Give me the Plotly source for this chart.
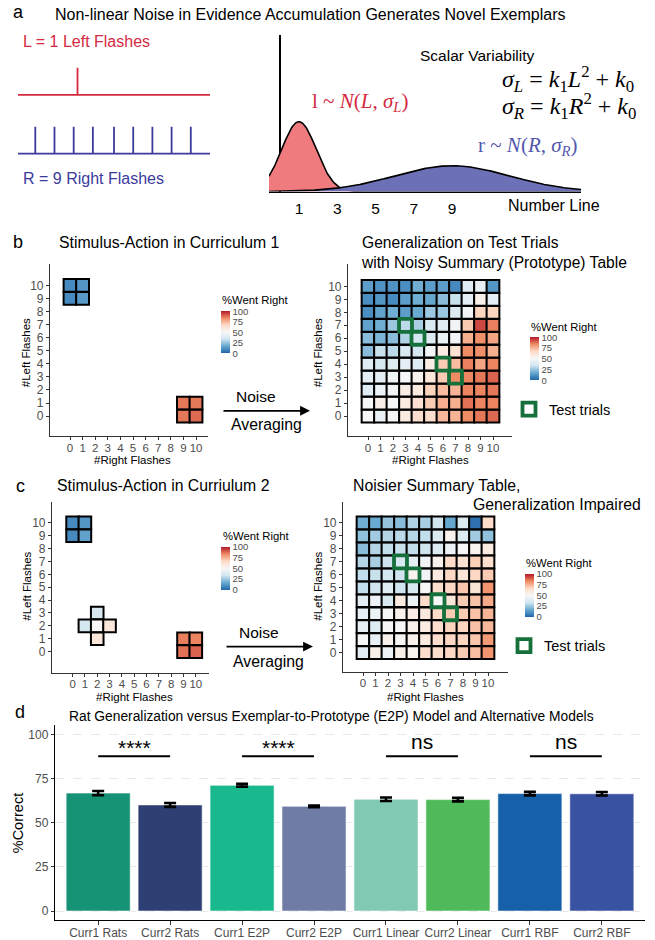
import plotly.graph_objects as go
import numpy as np

# ---------------- DATA ----------------
# Panel a: flash trains and evidence distributions
left_flash_times = [3.1]
right_flash_times = [0.9, 1.9, 2.9, 3.9, 5.0, 6.0, 7.0, 8.0, 9.0]
number_line_ticks = [1, 3, 5, 7, 9]
dist_means = [1, 9]
dist_sigmas = [0.9, 3.0]
dist_peaks = [1.0, 0.37]

# Panels b / c
levels = list(range(11))
curr1_x = [0, 1, 0, 1, 9, 10, 9, 10]
curr1_y = [10, 10, 9, 9, 1, 1, 0, 0]
curr1_v = [9, 12, 9, 13, 86, 86, 86, 88]

curr2_x = [0, 1, 0, 1, 2, 1, 2, 3, 2, 9, 10, 9, 10]
curr2_y = [10, 10, 9, 9, 3, 2, 2, 2, 1, 1, 1, 0, 0]
curr2_v = [9, 12, 9, 15, 36, 35, 50, 60, 60, 85, 84, 87, 89]

# rows: #Left Flashes = 0 .. 10 ; columns: #Right Flashes = 0 .. 10
grid_b = [
    [50, 44, 50, 58, 64, 65, 74, 75, 83, 86, 88],
    [50, 55, 50, 58, 63, 70, 76, 76, 87, 84, 84],
    [40, 45, 48, 56, 58, 68, 73, 75, 84, 84, 86],
    [42, 42, 46, 49, 53, 60, 70, 83, 84, 86, 89],
    [40, 36, 38, 42, 40, 56, 70, 73, 85, 78, 84],
    [22, 32, 30, 37, 35, 48, 57, 62, 83, 82, 76],
    [22, 20, 22, 28, 35, 40, 44, 47, 76, 82, 78],
    [15, 18, 25, 30, 27, 36, 40, 47, 70, 93, 85],
    [10, 15, 18, 14, 17, 25, 25, 38, 48, 68, 68],
    [10, 12, 9, 14, 18, 16, 22, 32, 42, 55, 42],
    [14, 11, 11, 10, 18, 14, 14, 9, 40, 43, 12],
]
grid_c = [
    [41, 55, 45, 55, 53, 65, 65, 67, 70, 73, 81],
    [50, 43, 54, 52, 54, 58, 64, 67, 68, 71, 80],
    [43, 39, 50, 50, 54, 57, 64, 68, 68, 72, 74],
    [43, 45, 50, 54, 56, 59, 66, 70, 70, 72, 75],
    [41, 45, 37, 58, 46, 66, 50, 60, 70, 72, 77],
    [31, 33, 40, 33, 37, 50, 65, 67, 71, 62, 81],
    [31, 32, 35, 33, 53, 47, 58, 67, 61, 67, 70],
    [29, 27, 33, 36, 42, 47, 54, 66, 62, 69, 64],
    [22, 29, 31, 32, 31, 33, 38, 45, 50, 53, 57],
    [23, 26, 29, 30, 29, 31, 38, 53, 38, 26, 23],
    [18, 17, 24, 22, 28, 27, 34, 16, 38, 3, 66],
]
test_x = [3, 4, 6, 7]
test_y = [7, 6, 4, 3]

# Panel d
bar_labels = ["Curr1 Rats", "Curr2 Rats", "Curr1 E2P", "Curr2 E2P",
              "Curr1 Linear", "Curr2 Linear", "Curr1 RBF", "Curr2 RBF"]
bar_values = [66.8, 60.1, 71.2, 59.3, 63.3, 63.1, 66.5, 66.4]
bar_errors = [1.2, 1.1, 0.8, 0.5, 1.0, 1.0, 1.0, 1.0]
bar_colors = ["#169274", "#2e3f73", "#1ab98d", "#6e7ca6",
              "#80c9b5", "#4fba59", "#1560a8", "#3a52a2"]
sig_pairs = [(0, 1), (2, 3), (4, 5), (6, 7)]
sig_labels = ["****", "****", "ns", "ns"]
sig_level = 87.7

# ---------------- STYLE / HELPERS ----------------
W, H = 655, 940
SANS = "Liberation Sans, Arial, Helvetica, sans-serif"
SERIF = "Liberation Serif, Times New Roman, serif"
GRAY = "#4d4d4d"
AXC = "#333333"
RED = "#d42a3f"
BLUE = "#3b3b9c"
BLUE2 = "#5358ae"
GREEN = "#16703b"
RDBU = [[0, "#2166ac"], [1/6, "#67a9cf"], [2/6, "#d1e5f0"], [0.5, "#f7f7f7"],
        [4/6, "#fddbc7"], [5/6, "#ef8a62"], [1, "#b2182b"]]


def fx(p):
    return p / W


def fy(p):
    return 1 - p / H


def dx(a, b):
    return [a / W, b / W]


def dy(top, bot):
    return [1 - bot / H, 1 - top / H]


fig = go.Figure()
ann = []
axes = {}


def text(x, y, s, size, color="black", xanchor="center", family=SANS, angle=0, align="left"):
    ann.append(dict(x=fx(x), y=fy(y), xref="paper", yref="paper", text=s, showarrow=False,
                    xanchor=xanchor, yanchor="middle", textangle=angle, align=align,
                    font=dict(size=size, color=color, family=family)))


# ---------------- PANEL a ----------------
for times, base, top, col in [(left_flash_times, 65, 92, RED), (right_flash_times, 6, 33, BLUE)]:
    xs, ys = [0, 10, None], [base, base, None]
    for t in times:
        xs += [t, t, None]
        ys += [base, top, None]
    fig.add_trace(go.Scatter(x=xs, y=ys, mode="lines", line=dict(color=col, width=1.8),
                             xaxis="x", yaxis="y", showlegend=False, hoverinfo="skip"))
axes["xaxis"] = dict(domain=dx(18, 210), range=[0, 10], anchor="y", visible=False)
axes["yaxis"] = dict(domain=dy(60, 160), range=[0, 100], anchor="x", visible=False)

xr_a = [-0.566, 15.73]
xgrid = np.linspace(xr_a[0], xr_a[1], 400)
for m, s, pk, fc in zip(dist_means, dist_sigmas, dist_peaks, ["#f07b7e", "#6c71b7"]):
    yv = pk * np.exp(-0.5 * ((xgrid - m) / s) ** 2)
    fig.add_trace(go.Scatter(x=xgrid, y=yv, mode="lines", fill="tozeroy", fillcolor=fc,
                             line=dict(color="black", width=1.6), xaxis="x2", yaxis="y2",
                             showlegend=False, hoverinfo="skip"))
axes["xaxis2"] = dict(domain=dx(269, 581), range=xr_a, anchor="y2", showline=True, linecolor="black",
                      linewidth=1.6, zeroline=True, zerolinecolor="black", zerolinewidth=1.6,
                      showgrid=False, ticks="", tickvals=number_line_ticks, ticklabelstandoff=2,
                      tickfont=dict(size=15.5, color="black", family=SANS), layer="above traces")
axes["yaxis2"] = dict(domain=dy(35, 192), range=[0, 2.243], anchor="x2", visible=False)

text(18, 12, "a", 18)
text(310, 15, "Non-linear Noise in Evidence Accumulation Generates Novel Exemplars", 16)
text(21, 42, "L = 1 Left Flashes", 16, RED, "left")
text(21, 179, "R = 9 Right Flashes", 16, BLUE, "left")
text(418, 56, "Scalar Variability", 15.5, "black", "left")
text(500, 79, "<i>σ</i><sub><i>L</i></sub> = <i>k</i><sub>1</sub><i>L</i><sup>2</sup> + <i>k</i><sub>0</sub>",
     24, "black", "left", SERIF)
text(500, 106, "<i>σ</i><sub><i>R</i></sub> = <i>k</i><sub>1</sub><i>R</i><sup>2</sup> + <i>k</i><sub>0</sub>",
     24, "black", "left", SERIF)
text(310, 102, "l ~ <i>N</i>(<i>L</i>, <i>σ</i><sub><i>L</i></sub>)", 21, RED, "left", SERIF)
text(476, 146, "r ~ <i>N</i>(<i>R</i>, <i>σ</i><sub><i>R</i></sub>)", 21, BLUE2, "left", SERIF)
text(506, 206, "Number Line", 16, "black", "left")


# ---------------- PANELS b / c ----------------
def hm_axes(n, xd, yd, xrng, yrng):
    axes[f"xaxis{n}"] = dict(domain=dx(*xd), range=xrng, anchor=f"y{n}", showline=True, linecolor=AXC,
                             linewidth=1.1, ticks="outside", ticklen=3, tickcolor=AXC, tickvals=levels,
                             tickfont=dict(size=11.5, color=GRAY), showgrid=False, zeroline=False,
                             ticklabelstandoff=-2)
    axes[f"yaxis{n}"] = dict(domain=dy(*yd), range=yrng, anchor=f"x{n}", showline=True, linecolor=AXC,
                             linewidth=1.1, ticks="outside", ticklen=3, tickcolor=AXC, tickvals=levels,
                             tickfont=dict(size=12, color=GRAY), showgrid=False, zeroline=False)


def colorbar(xp, ytop, ybot):
    return dict(x=fx(xp), xanchor="left", xpad=0, ypad=0, y=fy((ytop + ybot) / 2), yanchor="middle",
                len=ybot - ytop, lenmode="pixels", thickness=9, outlinewidth=0, ticks="",
                tickvals=[0, 25, 50, 75, 100], tickfont=dict(size=9.5, color=GRAY), title=dict(text=""))


def tiles(xs, ys, vs, n, size, cb):
    fig.add_trace(go.Scatter(x=xs, y=ys, mode="markers", xaxis=f"x{n}", yaxis=f"y{n}",
                             marker=dict(symbol="square", size=size, color=vs, cmin=0, cmax=100,
                                         colorscale=RDBU, line=dict(color="black", width=2),
                                         showscale=True, colorbar=cb),
                             showlegend=False, hoverinfo="skip"))


def full_grid(grid):
    xs, ys, vs = [], [], []
    for yi, row in enumerate(grid):
        for xi, v in enumerate(row):
            xs.append(levels[xi])
            ys.append(levels[yi])
            vs.append(v)
    return xs, ys, vs


def test_trace(n, leg):
    fig.add_trace(go.Scatter(x=test_x, y=test_y, mode="markers", xaxis=f"x{n}", yaxis=f"y{n}",
                             marker=dict(symbol="square-open", size=13, color=GREEN,
                                         line=dict(width=3.8, color=GREEN)),
                             name="Test trials", legend=leg, showlegend=True, hoverinfo="skip"))


# b-left
hm_axes(3, (50, 208), (265, 437), [-1.587, 10.95], [-1.527, 11.6])
tiles(curr1_x, curr1_y, curr1_v, 3, 12.8, colorbar(221, 312, 354))
# b-right
hm_axes(4, (348, 512), (265, 437), [-1.6, 11.52], [-1.54, 11.69])
bx, by, bv = full_grid(grid_b)
tiles(bx, by, bv, 4, 12.7, colorbar(530, 338, 381))
test_trace(4, "legend")
# c-left
hm_axes(5, (52, 209), (503, 674), [-1.67, 11.07], [-1.63, 11.63])
tiles(curr2_x, curr2_y, curr2_v, 5, 12.6, colorbar(221, 548, 591))
# c-right
hm_axes(6, (343, 508), (503, 673), [-1.6, 11.6], [-1.46, 11.62])
cx, cy, cv = full_grid(grid_c)
tiles(cx, cy, cv, 6, 12.7, colorbar(525, 575, 618))
test_trace(6, "legend2")

# texts b
text(18, 243, "b", 18)
text(57, 243, "Stimulus-Action in Curriculum 1", 15.8, "black", "left")
text(359, 253, "Generalization on Test Trials<br>with Noisy Summary (Prototype) Table", 15.6, "black", "left")
text(220, 301, "%Went Right", 11.3, "black", "left")
text(529, 328, "%Went Right", 11.3, "black", "left")
text(26, 354, "#Left Flashes", 11.5, "black", "center", SANS, -90)
text(318, 354, "#Left Flashes", 11.5, "black", "center", SANS, -90)
text(132, 461, "#Right Flashes", 11.5)
text(430, 461, "#Right Flashes", 11.5)
text(256, 397, "Noise", 15.5)
text(266, 425, "Averaging", 15.8)

# texts c
text(20, 487, "c", 18)
text(55, 487, "Stimulus-Action in Curriulum 2", 15.8, "black", "left")
text(351, 487, "Noisier Summary Table,", 15.8, "black", "left")
text(643, 506, "Generalization Impaired", 15.8, "black", "right")
text(221, 537, "%Went Right", 11.3, "black", "left")
text(524, 564, "%Went Right", 11.3, "black", "left")
text(27, 588, "#Left Flashes", 11.5, "black", "center", SANS, -90)
text(318, 588, "#Left Flashes", 11.5, "black", "center", SANS, -90)
text(134, 698, "#Right Flashes", 11.5)
text(425, 698, "#Right Flashes", 11.5)
text(259, 634, "Noise", 15.5)
text(268, 663, "Averaging", 15.8)

for x0, x1, yy in [(222, 310, 411.7), (225, 313, 648)]:
    ann.append(dict(x=fx(x1), y=fy(yy), ax=-(x1 - x0), ay=0, xref="paper", yref="paper",
                    axref="pixel", ayref="pixel", text="", showarrow=True, arrowhead=2,
                    arrowsize=1.1, arrowwidth=1.8, arrowcolor="black"))

# ---------------- PANEL d ----------------
idx = list(range(len(bar_labels)))
fig.add_trace(go.Bar(x=idx, y=bar_values, width=0.89, xaxis="x7", yaxis="y7",
                     marker=dict(color=bar_colors, line=dict(color="rgba(255,255,255,0.7)", width=0.8)),
                     error_y=dict(type="data", array=bar_errors, color="black", thickness=2.6, width=6),
                     showlegend=False, hoverinfo="skip"))
for (i, j), lab in zip(sig_pairs, sig_labels):
    fig.add_trace(go.Scatter(x=[idx[i], idx[j]], y=[sig_level, sig_level], mode="lines",
                             line=dict(color="black", width=2), xaxis="x7", yaxis="y7",
                             showlegend=False, hoverinfo="skip"))
    ann.append(dict(x=(idx[i] + idx[j]) / 2, y=sig_level + (0.5 if lab == "ns" else -2.5),
                    xref="x7", yref="y7", text=lab, showarrow=False, yanchor="bottom",
                    font=dict(size=21, color="black", family=SANS)))

axes["xaxis7"] = dict(domain=dx(55, 645), range=[-0.6, 7.6], anchor="y7", showline=True, linecolor="black",
                      linewidth=1.2, ticks="outside", ticklen=4, tickcolor=AXC, tickvals=idx,
                      ticktext=bar_labels, tickfont=dict(size=12, color=GRAY), showgrid=False, zeroline=False,
                      ticklabelstandoff=-3)
axes["yaxis7"] = dict(domain=dy(727, 922), range=[-5.1, 105.1], anchor="x7", showline=True, linecolor="black",
                      linewidth=1.2, ticks="outside", ticklen=3, tickcolor=AXC, tickvals=[0, 25, 50, 75, 100],
                      tickfont=dict(size=12, color=GRAY), showgrid=True, gridcolor="#e2e2e2",
                      griddash="dash", gridwidth=0.8, zeroline=False)

text(20, 714, "d", 18)
text(331, 718, "Rat Generalization versus Exemplar-to-Prototype (E2P) Model and Alternative Models", 13.8)
text(18, 825, "%Correct", 14.5, "black", "center", SANS, -90)

# ---------------- LAYOUT ----------------
fig.update_layout(
    width=W, height=H, autosize=False,
    margin=dict(l=0, r=0, t=0, b=0),
    paper_bgcolor="white", plot_bgcolor="rgba(0,0,0,0)",
    font=dict(family=SANS, color="black"),
    annotations=ann,
    legend=dict(x=fx(509), y=fy(410), xanchor="left", yanchor="middle", bgcolor="rgba(0,0,0,0)",
                font=dict(size=14.5, color="black", family=SANS)),
    legend2=dict(x=fx(504), y=fy(647), xanchor="left", yanchor="middle", bgcolor="rgba(0,0,0,0)",
                 font=dict(size=14.5, color="black", family=SANS)),
    **axes,
)

fig.write_html("out.html", config={"displayModeBar": False, "staticPlot": True},
               post_script="document.body.style.margin='0px';document.body.style.padding='0px';")
